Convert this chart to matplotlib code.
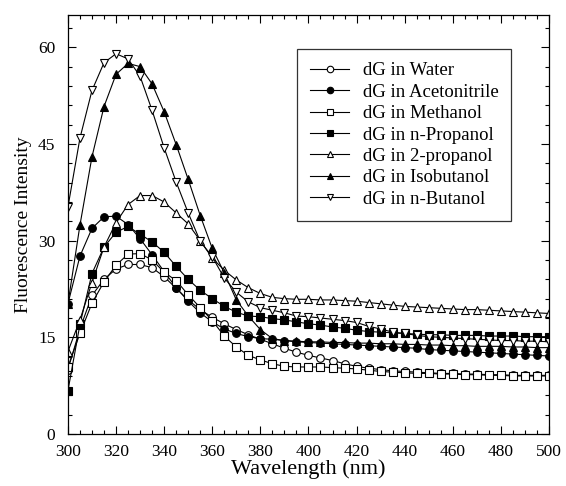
import matplotlib
matplotlib.use('Agg')
import matplotlib.pyplot as plt
from matplotlib.ticker import MultipleLocator

# wavelength grid (nm)
wavelength = [300, 305, 310, 315, 320, 325, 330, 335, 340, 345,
              350, 355, 360, 365, 370, 375, 380, 385, 390, 395,
              400, 405, 410, 415, 420, 425, 430, 435, 440, 445,
              450, 455, 460, 465, 470, 475, 480, 485, 490, 495, 500]

water = [10.0, 16.3, 21.5, 24.0, 25.6, 26.3, 26.3, 25.8, 24.4, 22.6,
         20.8, 19.3, 18.1, 17.1, 16.2, 15.4, 14.7, 14.0, 13.3, 12.7,
         12.2, 11.8, 11.4, 10.9, 10.5, 10.2, 10.0, 9.8, 9.7, 9.6,
         9.5, 9.4, 9.4, 9.3, 9.3, 9.2, 9.2, 9.1, 9.1, 9.1, 9.1]

acetonitrile = [20.2, 27.6, 31.9, 33.7, 33.8, 32.5, 30.3, 27.8, 25.2, 22.7,
                20.6, 18.8, 17.4, 16.3, 15.6, 15.1, 14.8, 14.7, 14.5, 14.3,
                14.2, 14.1, 14.0, 13.9, 13.8, 13.7, 13.6, 13.5, 13.4, 13.3,
                13.1, 13.0, 12.9, 12.8, 12.7, 12.6, 12.5, 12.4, 12.3, 12.2, 12.1]

methanol = [10.4, 15.6, 20.3, 23.6, 26.2, 27.9, 28.0, 27.0, 25.1, 23.8,
            21.6, 19.6, 17.6, 15.2, 13.5, 12.2, 11.5, 10.9, 10.5, 10.4,
            10.4, 10.4, 10.3, 10.2, 10.1, 9.9, 9.7, 9.6, 9.5, 9.4,
            9.4, 9.3, 9.3, 9.2, 9.2, 9.1, 9.1, 9.0, 9.0, 9.0, 9.0]

n_propanol = [6.7, 17.0, 24.9, 29.0, 31.3, 32.2, 31.0, 29.8, 28.2, 26.0,
              24.0, 22.3, 21.0, 19.8, 18.9, 18.3, 18.2, 17.9, 17.7, 17.4,
              17.1, 16.9, 16.6, 16.4, 16.1, 15.9, 15.8, 15.7, 15.6, 15.5,
              15.4, 15.4, 15.3, 15.3, 15.3, 15.2, 15.2, 15.2, 15.1, 15.1, 15.1]

propanol_2 = [12.8, 17.7, 23.5, 29.0, 32.8, 35.6, 37.0, 37.0, 36.0, 34.3,
              32.6, 30.0, 27.3, 25.4, 23.9, 22.7, 21.8, 21.2, 21.0, 20.9,
              20.9, 20.8, 20.8, 20.7, 20.6, 20.4, 20.2, 20.0, 19.8, 19.7,
              19.6, 19.5, 19.4, 19.3, 19.3, 19.2, 19.1, 19.0, 18.9, 18.8, 18.7]

isobutanol = [20.2, 32.4, 43.0, 50.8, 55.8, 57.5, 57.0, 54.3, 50.0, 44.9,
              39.5, 33.9, 28.8, 25.0, 20.8, 18.3, 16.2, 14.8, 14.5, 14.4,
              14.3, 14.3, 14.2, 14.2, 14.1, 14.1, 14.0, 14.0, 13.9, 13.9,
              13.8, 13.8, 13.7, 13.7, 13.6, 13.6, 13.6, 13.5, 13.5, 13.4, 13.4]

n_butanol = [35.2, 45.9, 53.3, 57.6, 59.0, 58.2, 55.5, 50.2, 44.4, 39.1,
             34.3, 29.9, 27.5, 24.2, 22.0, 20.5, 19.6, 19.2, 18.8, 18.3,
             18.2, 18.0, 17.8, 17.6, 17.3, 16.7, 16.3, 15.8, 15.6, 15.3,
             15.1, 15.0, 14.9, 14.8, 14.7, 14.6, 14.5, 14.5, 14.4, 14.4, 14.3]

labels = ['dG in Water', 'dG in Acetonitrile', 'dG in Methanol', 'dG in n-Propanol',
          'dG in 2-propanol', 'dG in Isobutanol', 'dG in n-Butanol']
series = [water, acetonitrile, methanol, n_propanol, propanol_2, isobutanol, n_butanol]
# (marker, filled)
styles = [('o', False), ('o', True), ('s', False), ('s', True),
          ('^', False), ('^', True), ('v', False)]

plt.rcParams['font.family'] = ['Liberation Serif', 'DejaVu Serif']

fig = plt.figure(figsize=(5.66, 4.86), dpi=100)
ax = fig.add_axes([0.120, 0.107, 0.850, 0.862])

for vals, lab, (mk, filled) in zip(series, labels, styles):
    ax.plot(wavelength, vals, color='black', lw=0.8, marker=mk, markersize=5.5,
            markerfacecolor='black' if filled else 'white',
            markeredgecolor='black', markeredgewidth=0.8, label=lab)

ax.set_xlim(300, 500)
ax.set_ylim(0, 65)
ax.xaxis.set_major_locator(MultipleLocator(20))
ax.xaxis.set_minor_locator(MultipleLocator(5))
ax.yaxis.set_major_locator(MultipleLocator(15))
ax.yaxis.set_minor_locator(MultipleLocator(3))
ax.tick_params(which='both', direction='in', top=True, right=True, labelsize=12.5)
ax.tick_params(which='major', length=6, width=0.8)
ax.tick_params(which='minor', length=3, width=0.8)
ax.tick_params(axis='x', which='major', pad=7)
ax.tick_params(axis='y', which='major', pad=9)
for sp in ax.spines.values():
    sp.set_linewidth(0.9)

ax.set_xlabel('Wavelength (nm)', fontsize=16, labelpad=0)
ax.set_ylabel('Fluorescence Intensity', fontsize=14, labelpad=4)

leg = ax.legend(loc='upper left', bbox_to_anchor=(0.476, 0.919), borderaxespad=0,
                fontsize=13.5, frameon=True, fancybox=False, edgecolor='black',
                handlelength=2.1, handletextpad=0.7, labelspacing=0.23,
                borderpad=0.7, markerscale=0.85)
leg.get_frame().set_linewidth(0.9)

fig.savefig('out.png', dpi=100)
